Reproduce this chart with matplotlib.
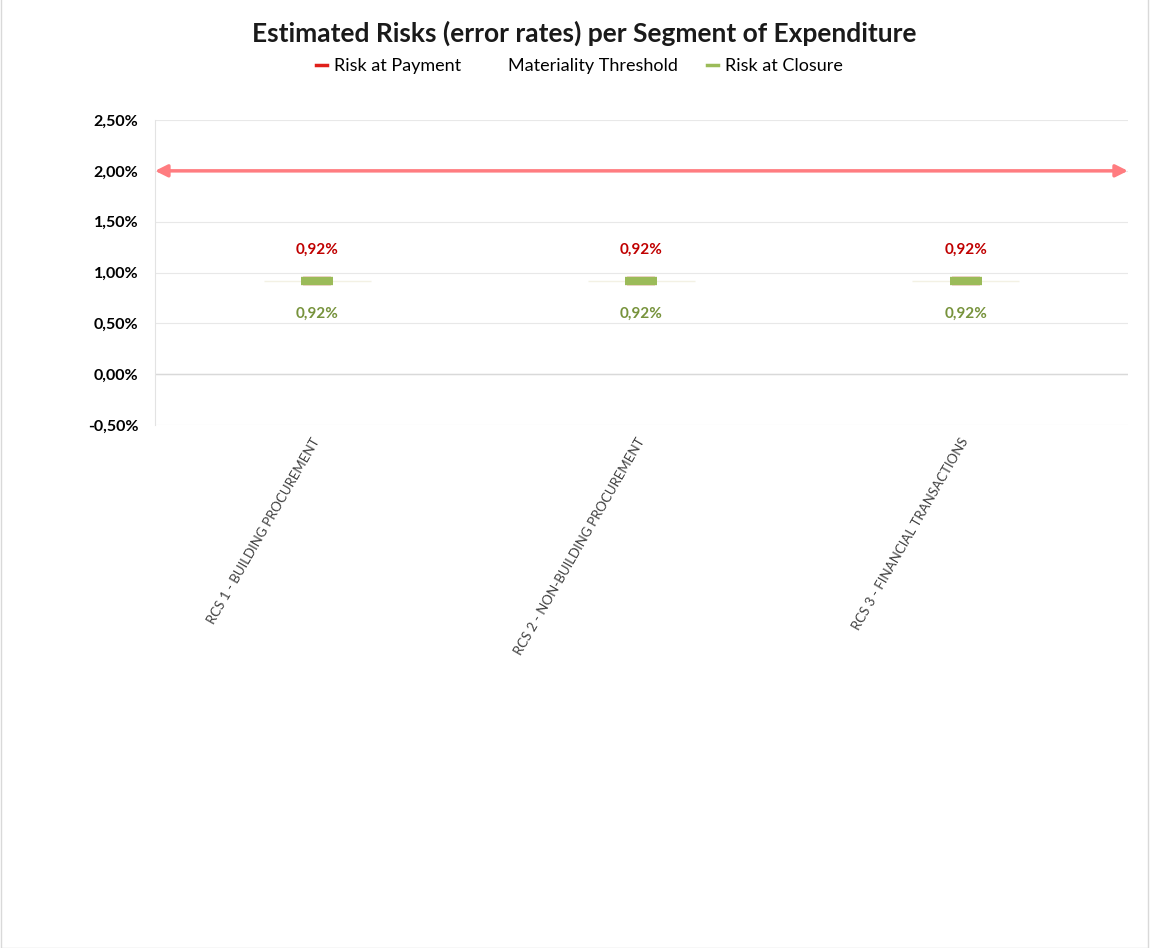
import matplotlib
matplotlib.use("Agg")
import matplotlib.pyplot as plt
from matplotlib.ticker import FuncFormatter, MultipleLocator
from matplotlib.lines import Line2D
from matplotlib.patches import Rectangle
import numpy as np

# data
categories = ["RCS 1 - BUILDING PROCUREMENT",
              "RCS 2 - NON-BUILDING PROCUREMENT",
              "RCS 3 - FINANCIAL TRANSACTIONS"]
risk_payment = [0.92, 0.92, 0.92]
risk_closure = [0.92, 0.92, 0.92]
materiality = 2.0

plt.rcParams['font.family'] = ['Lato', 'DejaVu Sans']

fig = plt.figure(figsize=(11.5, 9.48), dpi=100)
ax = fig.add_axes([0.1348, 0.5517, 0.846, 0.3217])

x = np.arange(len(categories))
ax.set_xlim(-0.5, len(categories) - 0.5)
ax.set_ylim(-0.5, 2.5)

# faint connecting line behind the markers
ax.hlines(risk_payment, x - 0.165, x + 0.165, color='#F3F1E4', lw=1, zorder=2)

# red (payment) marker sits behind the green (closure) marker
ax.plot(x, risk_payment, ls='none', marker='_', ms=20, mew=6, color='#E0201A', zorder=3)
ax.plot(x, risk_closure, ls='none', marker='_', ms=23, mew=6, color='#9BBB59', zorder=4)

for xi, v in zip(x, risk_payment):
    ax.annotate(f"{v:.2f}%".replace('.', ','), (xi, v), xytext=(0, 22), textcoords='offset points',
                ha='center', va='center', fontsize=11, fontweight='bold', color='#C00000')
for xi, v in zip(x, risk_closure):
    ax.annotate(f"{v:.2f}%".replace('.', ','), (xi, v), xytext=(0, -24), textcoords='offset points',
                ha='center', va='center', fontsize=11, fontweight='bold', color='#77933C')

# materiality threshold arrow
ax.annotate('', xy=(1.0, materiality), xytext=(0.0, materiality),
            xycoords=('axes fraction', 'data'), textcoords=('axes fraction', 'data'),
            arrowprops=dict(arrowstyle='<|-|>', color='#FF7C80', lw=2.5,
                            mutation_scale=18, shrinkA=0, shrinkB=0), zorder=5)

ax.yaxis.set_major_locator(MultipleLocator(0.5))
ax.yaxis.set_major_formatter(FuncFormatter(lambda v, p: f"{v:.2f}%".replace('.', ',')))
ax.grid(axis='y', color='#E8E8E8', lw=0.8)
ax.axhline(0, color='#D9D9D9', lw=1)
for s in ['top', 'right', 'bottom']:
    ax.spines[s].set_visible(False)
ax.spines['left'].set_color('#E3E3E3')
ax.tick_params(axis='both', length=0)
ax.tick_params(axis='y', pad=12, labelsize=11.5)
for t in ax.get_yticklabels():
    t.set_fontweight('bold')

ax.set_xticks(x)
ax.set_xticklabels(categories, rotation=60, ha='right', va='center',
                   rotation_mode='anchor', fontsize=9.5, color='#404040')
ax.tick_params(axis='x', pad=10)

fig.text(0.508, 0.965, "Estimated Risks (error rates) per Segment of Expenditure",
         ha='center', va='center', fontsize=19, fontweight='bold', color='#1A1A1A')

handles = [Line2D([], [], color='#E0201A', lw=2.5),
           Line2D([], [], color='none', lw=2.5),
           Line2D([], [], color='#9BBB59', lw=2.5)]
fig.legend(handles, ["Risk at Payment", "Materiality Threshold", "Risk at Closure"],
           loc='center', bbox_to_anchor=(0.504, 0.930), ncol=3, frameon=False,
           fontsize=13, handlelength=0.6, handletextpad=0.4, columnspacing=1.6)

fig.add_artist(Rectangle((0.001, 0.0), 0.997, 1.2, transform=fig.transFigure,
                         fill=False, ec='#D9D9D9', lw=1))

fig.savefig("out.png", dpi=100)
